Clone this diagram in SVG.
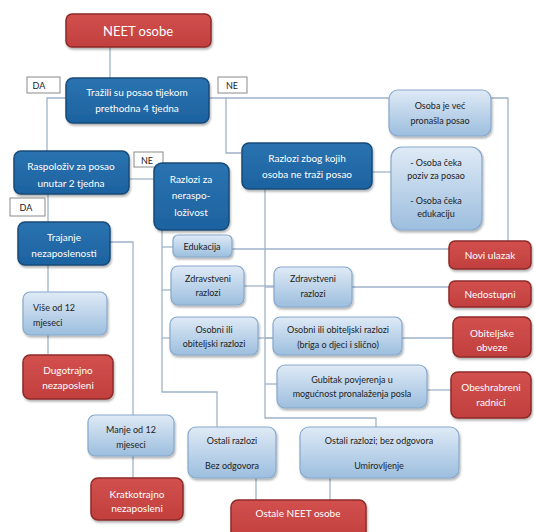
<svg xmlns="http://www.w3.org/2000/svg" width="534" height="532" viewBox="0 0 534 532">
<defs>
<linearGradient id="lg" x1="0" y1="0" x2="0" y2="1">
<stop offset="0" stop-color="#dfeaf6"/>
<stop offset="1" stop-color="#9cbede"/>
</linearGradient>
<linearGradient id="rg" x1="0" y1="0" x2="0" y2="1">
<stop offset="0" stop-color="#d2504e"/>
<stop offset="1" stop-color="#c13f3d"/>
</linearGradient>
<linearGradient id="bg" x1="0" y1="0" x2="0" y2="1">
<stop offset="0" stop-color="#2a73b0"/>
<stop offset="1" stop-color="#1d62a0"/>
</linearGradient>
<filter id="sh" x="-10%" y="-10%" width="130%" height="140%">
<feDropShadow dx="1" dy="2" stdDeviation="1.2" flood-color="#000" flood-opacity="0.3"/>
</filter>
</defs>
<style>
text{font-family:Lato,"Liberation Sans",sans-serif;text-anchor:middle;dominant-baseline:central}
.red rect{fill:url(#rg);stroke:#8e2a28;stroke-width:1.5;filter:url(#sh)}
.red text{fill:#fff;font-size:10px}
.dark rect{fill:url(#bg);stroke:#174a78;stroke-width:1.5;filter:url(#sh)}
.dark text{fill:#fff;font-size:10px}
.light rect{fill:url(#lg);stroke:#86a8cc;stroke-width:1.2;filter:url(#sh)}
.light text{fill:#222;font-size:9px}
.lab rect{fill:#fff;stroke:#8a8a8a;stroke-width:1}
.lab text{fill:#222;font-size:9px}
#connectors path{fill:none;stroke:#9fb3c8;stroke-width:1.3}
</style>
<rect width="534" height="532" fill="#fff"/>
<g id="connectors">
<path d="M110 47V78"/>
<path d="M66 98H47V151"/>
<path d="M209 98H508V241"/>
<path d="M226 98V153H241"/>
<path d="M129 179H154"/>
<path d="M48 194V222"/>
<path d="M48 265V292"/>
<path d="M48 335V354"/>
<path d="M110 242H133V415"/>
<path d="M133 456V478"/>
<path d="M162 229V392H217V427"/>
<path d="M162 247H173"/>
<path d="M162 290H171"/>
<path d="M162 338H170"/>
<path d="M232 249H449"/>
<path d="M244 286H274"/>
<path d="M352 287H449"/>
<path d="M258 338H273"/>
<path d="M402 338H453"/>
<path d="M265 189V418H376V427"/>
<path d="M265 287H274"/>
<path d="M265 338H273"/>
<path d="M265 384H277"/>
<path d="M372 172H391"/>
<path d="M427 390H451"/>
<path d="M256 478V500"/>
<path d="M330 478V500"/>
</g>
<g id="n-neet" class="red"><rect x="66" y="14" width="145" height="33" rx="6"/><text x="138" y="31" style="font-size:13px">NEET osobe</text></g>
<g id="l-da1" class="lab"><rect x="27" y="77" width="33" height="16"/><text x="39" y="85">DA</text></g>
<g id="n-trazili" class="dark"><rect x="66" y="78" width="143" height="45" rx="7"/><text x="137" y="92">Tražili su posao tijekom</text><text x="137" y="108">prethodna 4 tjedna</text></g>
<g id="l-ne1" class="lab"><rect x="218" y="77" width="29" height="16"/><text x="232" y="85">NE</text></g>
<g id="n-raspoloziv" class="dark"><rect x="14" y="151" width="115" height="43" rx="7"/><text x="71" y="166">Raspoloživ za posao</text><text x="71" y="183">unutar 2 tjedna</text></g>
<g id="l-ne2" class="lab"><rect x="134" y="152" width="29" height="15"/><text x="147" y="160">NE</text></g>
<g id="n-razlozi-nerasp" class="dark"><rect x="154" y="163" width="75" height="67" rx="8"/><text x="191" y="179">Razlozi za</text><text x="191" y="195">neraspo-</text><text x="191" y="212">loživost</text></g>
<g id="n-razlozi-ne-trazi" class="dark"><rect x="242" y="143" width="130" height="46" rx="7"/><text x="307" y="158">Razlozi zbog kojih</text><text x="307" y="174">osoba ne traži posao</text></g>
<g id="n-pronasla" class="light"><rect x="389" y="90" width="102" height="46" rx="9"/><text x="440" y="105">Osoba je već</text><text x="440" y="120">pronašla posao</text></g>
<g id="n-ceka" class="light"><rect x="391" y="147" width="91" height="83" rx="11"/><text x="436" y="162">- Osoba čeka</text><text x="436" y="175">poziv za posao</text><text x="436" y="200">- Osoba čeka</text><text x="436" y="213">edukaciju</text></g>
<g id="l-da2" class="lab"><rect x="10" y="198" width="35" height="18"/><text x="26" y="207">DA</text></g>
<g id="n-trajanje" class="dark"><rect x="18" y="222" width="92" height="43" rx="7"/><text x="64" y="237">Trajanje</text><text x="64" y="253">nezaposlenosti</text></g>
<g id="n-vise" class="light"><rect x="23" y="292" width="84" height="43" rx="7"/><text x="33" y="307" style="text-anchor:start">Više od 12</text><text x="33" y="322" style="text-anchor:start">mjeseci</text></g>
<g id="n-dugotrajno" class="red"><rect x="23" y="355" width="90" height="44" rx="7"/><text x="68" y="370">Dugotrajno</text><text x="68" y="385">nezaposleni</text></g>
<g id="n-manje" class="light"><rect x="88" y="415" width="86" height="41" rx="7"/><text x="131" y="429">Manje od 12</text><text x="131" y="444">mjeseci</text></g>
<g id="n-kratkotrajno" class="red"><rect x="91" y="478" width="92" height="42" rx="7"/><text x="137" y="494">Kratkotrajno</text><text x="137" y="508">nezaposleni</text></g>
<g id="n-edukacija" class="light"><rect x="173" y="235" width="59" height="22" rx="5"/><text x="202" y="246">Edukacija</text></g>
<g id="n-zdrav1" class="light"><rect x="171" y="266" width="73" height="39" rx="7"/><text x="208" y="278">Zdravstveni</text><text x="208" y="292">razlozi</text></g>
<g id="n-osobni1" class="light"><rect x="170" y="317" width="88" height="38" rx="7"/><text x="214" y="329">Osobni ili</text><text x="214" y="343">obiteljski razlozi</text></g>
<g id="n-zdrav2" class="light"><rect x="274" y="267" width="78" height="40" rx="7"/><text x="313" y="278">Zdravstveni</text><text x="313" y="293">razlozi</text></g>
<g id="n-osobni2" class="light"><rect x="273" y="317" width="129" height="38" rx="7"/><text x="338" y="329">Osobni ili obiteljski razlozi</text><text x="338" y="344">(briga o djeci i slično)</text></g>
<g id="n-gubitak" class="light"><rect x="277" y="365" width="150" height="43" rx="8"/><text x="352" y="379">Gubitak povjerenja u</text><text x="352" y="393">mogućnost pronalaženja posla</text></g>
<g id="n-ostali1" class="light"><rect x="188" y="427" width="88" height="51" rx="8"/><text x="232" y="440">Ostali razlozi</text><text x="232" y="465">Bez odgovora</text></g>
<g id="n-ostali2" class="light"><rect x="300" y="427" width="159" height="51" rx="9"/><text x="379" y="440">Ostali razlozi; bez odgovora</text><text x="379" y="465">Umirovljenje</text></g>
<g id="n-ostale-neet" class="red"><rect x="231" y="500" width="135" height="40" rx="7"/><text x="298" y="513">Ostale NEET osobe</text></g>
<g id="n-novi" class="red"><rect x="449" y="241" width="82" height="28" rx="6"/><text x="490" y="255">Novi ulazak</text></g>
<g id="n-nedostupni" class="red"><rect x="449" y="281" width="82" height="26" rx="6"/><text x="490" y="294">Nedostupni</text></g>
<g id="n-obiteljske" class="red"><rect x="453" y="317" width="78" height="40" rx="7"/><text x="492" y="333">Obiteljske</text><text x="492" y="347">obveze</text></g>
<g id="n-obeshrabreni" class="red"><rect x="451" y="372" width="80" height="46" rx="7"/><text x="491" y="387">Obeshrabreni</text><text x="491" y="402">radnici</text></g>
</svg>
